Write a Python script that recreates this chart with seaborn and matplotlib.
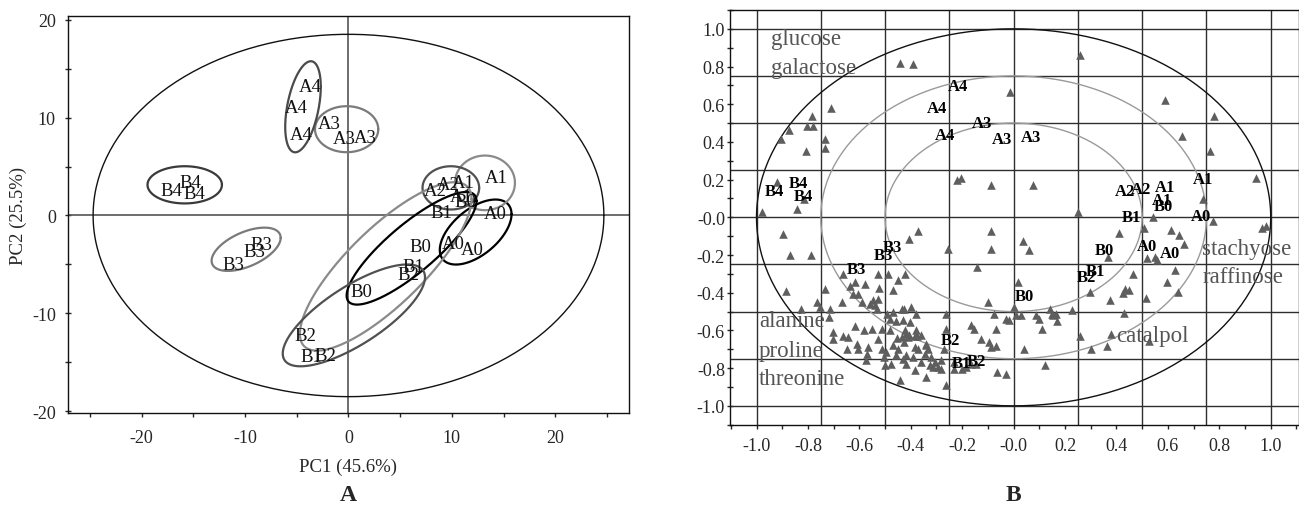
import numpy as np
import matplotlib.pyplot as plt
import seaborn as sns

# ---- panel A: PCA scores ----
score_labels = ["A4", "A4", "A4", "A3", "A3", "A3", "B4", "B4", "B4", "B3", "B3", "B3",
                "A1", "A2", "A2", "A1", "A1", "B0", "B1", "A0", "A0", "A0",
                "B0", "B1", "B2", "B0", "B2", "B1", "B2"]
score_x = [-3.7, -5.1, -4.6, -1.9, -0.4, 1.6, -17.1, -15.3, -14.9, -8.4, -9.1, -11.1,
           14.3, 8.4, 9.66, 11.1, 10.9, 11.3, 9.0, 14.2, 10.14, 12.0,
           6.98, 6.27, 5.78, 1.27, -4.2, -3.56, -2.27]
score_y = [13.2, 11.0, 8.3, 9.4, 7.9, 8.0, 2.6, 3.4, 2.2, -3.0, -3.7, -5.0,
           3.85, 2.6, 3.16, 3.33, 1.97, 1.46, 0.34, 0.17, -2.86, -3.5,
           -3.2, -5.17, -6.02, -7.72, -12.3, -14.36, -14.3]

# group ellipses: centre, half extents, correlation
ell_groups = ["A0", "A1", "A2", "A3", "A4", "B0", "B1", "B2", "B3", "B4"]
ell_cx = [12.3, 13.2, 9.9, -0.18, -4.4, 6.1, 3.6, 0.52, -9.9, -15.84]
ell_cy = [-1.69, 3.33, 2.82, 8.81, 11.1, -3.35, -5.2, -10.2, -3.45, 3.13]
ell_sx = [3.47, 2.9, 2.74, 3.06, 1.72, 6.28, 8.3, 6.88, 3.34, 3.6]
ell_sy = [3.32, 2.79, 2.21, 2.35, 4.65, 5.75, 8.6, 5.2, 2.21, 1.9]
ell_rho = [0.55, 0.0, 0.0, 0.0, 0.44, 0.84, 0.8, 0.75, 0.53, 0.0]
ell_colors = {"A0": "#000000", "A1": "#8a8a8a", "A2": "#505050", "A3": "#7a7a7a",
              "A4": "#4a4a4a", "B0": "#000000", "B1": "#8a8a8a", "B2": "#505050",
              "B3": "#7a7a7a", "B4": "#3a3a3a"}

# ---- panel B: loadings ----
load_x = [0.258, -0.442, -0.392, -0.016, 0.588, -0.71, -0.783, -0.872, -0.802, -0.779,
          -0.905, -0.733, -0.733, -0.807, 0.778, 0.656, 0.762, 0.942, -0.221, -0.204,
          -0.088, 0.075, -0.921, -0.815, -0.844, -0.977, 0.736, 0.252, 0.543, 0.775,
          0.965, 0.982, 0.507, 0.411, 0.613, 0.642, 0.661, -0.898, -0.87, -0.79,
          -0.373, -0.405, -0.254, -0.088, -0.088, 0.038, 0.06, -0.142, 0.366, 0.52,
          0.549, 0.556, 0.626, 0.465, 0.597, 0.639, 0.433, 0.45, 0.427, 0.298,
          0.373, 0.513, 0.429, 0.227, 0.143, 0.154, 0.167, 0.018, 0.365, 0.38,
          0.528, 0.302, 0.257, 0.124,
          -0.884, -0.732, -0.826, -0.765, -0.754, -0.716, -0.72, -0.668, -0.662, -0.638,
          -0.616, -0.604, -0.623, -0.578, -0.588, -0.559, -0.546, -0.539, -0.533, -0.529,
          -0.524, -0.526, -0.488, -0.471, -0.449, -0.423, -0.436, -0.468, -0.494, -0.481,
          -0.426, -0.398, -0.378, -0.404, -0.616, -0.58, -0.552, -0.511, -0.481, -0.458,
          -0.432, -0.421, -0.407, -0.385, -0.374, -0.41, -0.662, -0.645, -0.704, -0.704,
          -0.649, -0.61, -0.604, -0.565, -0.529, -0.513, -0.497, -0.503, -0.5, -0.475,
          -0.468, -0.449, -0.458, -0.426, -0.417, -0.43, -0.417, -0.391, -0.385, -0.385,
          -0.372, -0.361, -0.346, -0.34, -0.333, -0.32, -0.327, -0.307, -0.294, -0.284,
          -0.269, -0.262, -0.262, -0.262, -0.23, -0.23, -0.202, -0.185, -0.166, -0.146,
          -0.166, -0.153, -0.127, -0.097, -0.088, -0.069, -0.069, -0.075, -0.03, -0.018,
          0.008, 0.028, 0.086, 0.098, 0.111, 0.15, 0.163, 0.002, -0.101, -0.063,
          -0.03, 0.04, -0.574, -0.443, -0.34, -0.314, -0.284, -0.381, -0.359, -0.34,
          -0.417, -0.436, -0.455, -0.571]
load_y = [0.859, 0.818, 0.811, 0.665, 0.625, 0.581, 0.535, 0.465, 0.482, 0.484,
          0.417, 0.417, 0.368, 0.35, 0.537, 0.431, 0.35, 0.208, 0.196, 0.209,
          0.17, 0.17, 0.187, 0.095, 0.042, 0.029, 0.095, 0.029, 0.002, -0.021,
          -0.057, -0.045, -0.056, -0.083, -0.069, -0.095, -0.143, -0.09, -0.198, -0.2,
          -0.074, -0.113, -0.166, -0.074, -0.169, -0.125, -0.171, -0.263, -0.212, -0.215,
          -0.21, -0.228, -0.281, -0.302, -0.343, -0.396, -0.378, -0.383, -0.399, -0.396,
          -0.44, -0.427, -0.51, -0.493, -0.484, -0.519, -0.551, -0.345, -0.682, -0.617,
          -0.655, -0.696, -0.629, -0.784,
          -0.392, -0.378, -0.484, -0.449, -0.475, -0.484, -0.528, -0.449, -0.302, -0.366,
          -0.343, -0.405, -0.405, -0.352, -0.449, -0.458, -0.44, -0.466, -0.484, -0.302,
          -0.375, -0.431, -0.299, -0.383, -0.334, -0.299, -0.484, -0.502, -0.511, -0.537,
          -0.484, -0.475, -0.511, -0.555, -0.578, -0.599, -0.59, -0.59, -0.595, -0.551,
          -0.546, -0.599, -0.622, -0.629, -0.629, -0.634, -0.629, -0.634, -0.608, -0.643,
          -0.696, -0.67, -0.696, -0.687, -0.643, -0.696, -0.714, -0.74, -0.784, -0.776,
          -0.678, -0.696, -0.731, -0.661, -0.731, -0.749, -0.776, -0.74, -0.687, -0.811,
          -0.696, -0.767, -0.723, -0.678, -0.696, -0.74, -0.784, -0.767, -0.793, -0.758,
          -0.696, -0.59, -0.511, -0.891, -0.802, -0.767, -0.802, -0.793, -0.776, -0.776,
          -0.572, -0.59, -0.643, -0.661, -0.687, -0.682, -0.59, -0.511, -0.537, -0.546,
          -0.519, -0.519, -0.519, -0.537, -0.59, -0.511, -0.511, -0.475, -0.449, -0.82,
          -0.829, -0.696, -0.758, -0.864, -0.846, -0.793, -0.802, -0.599, -0.625, -0.67,
          -0.617, -0.634, -0.64, -0.723]

obs_labels = ["A4", "A4", "A4", "A3", "A3", "A3", "B4", "B4", "B4", "A2", "A2", "A1",
              "A1", "B0", "A1", "B1", "A0", "A0", "A0", "B0", "B1", "B2", "B0",
              "B3", "B3", "B3", "B2", "B1", "B2"]
obs_x = [-0.216, -0.298, -0.267, -0.121, -0.046, 0.067, -0.932, -0.838, -0.816, 0.434,
         0.494, 0.589, 0.577, 0.582, 0.737, 0.46, 0.727, 0.518, 0.61, 0.352, 0.317,
         0.285, 0.041, -0.473, -0.506, -0.612, -0.245, -0.203, -0.146]
obs_y = [0.695, 0.58, 0.435, 0.498, 0.415, 0.424, 0.14, 0.183, 0.114, 0.138,
         0.152, 0.161, 0.092, 0.06, 0.205, 0.004, 0.005, -0.15, -0.187, -0.173, -0.286,
         -0.318, -0.415, -0.157, -0.201, -0.272, -0.652, -0.773, -0.76]

var_names = ["glucose", "galactose", "alanine", "proline", "threonine",
             "stachyose", "raffinose", "catalpol"]
var_x = [-0.944, -0.944, -0.991, -0.991, -0.991, 0.734, 0.734, 0.40]
var_y = [0.947, 0.793, -0.549, -0.705, -0.855, -0.166, -0.316, -0.629]

grid_levels = [-1.0, -0.75, -0.5, -0.25, 0.0, 0.25, 0.5, 0.75, 1.0]
circle_radii = [1.0, 0.75, 0.5]

sns.set_theme(style="white")
plt.rcParams["font.family"] = ["Liberation Serif", "DejaVu Serif"]
plt.rcParams["axes.unicode_minus"] = False

fig = plt.figure(figsize=(12.99, 5.06), dpi=100)
axA = fig.add_axes([0.0521, 0.1812, 0.4318, 0.7858])
axB = fig.add_axes([0.5618, 0.1587, 0.4382, 0.8196])

t = np.linspace(0, 2 * np.pi, 300)

# ---------- A ----------
axA.axhline(0, color="#555555", lw=1.2, zorder=1)
axA.axvline(0, color="#555555", lw=1.2, zorder=1)
axA.plot(24.7 * np.cos(t), 18.5 * np.sin(t), color="#111111", lw=1.0)
for g, cx, cy, sx, sy, r in zip(ell_groups, ell_cx, ell_cy, ell_sx, ell_sy, ell_rho):
    ex = cx + sx * np.cos(t)
    ey = cy + sy * (r * np.cos(t) + np.sqrt(1 - r ** 2) * np.sin(t))
    axA.plot(ex, ey, color=ell_colors[g], lw=1.6, zorder=2)
for lab, x, y in zip(score_labels, score_x, score_y):
    axA.text(x, y, lab, ha="center", va="center", fontsize=13.5, color="#111111", zorder=3)

axA.set_xlim(-27.16, 27.09)
axA.set_ylim(-20.2, 20.4)
axA.set_xticks([-20, -10, 0, 10, 20])
axA.set_xticks(np.arange(-25, 26, 5), minor=True)
axA.set_yticks([-20, -10, 0, 10, 20])
axA.set_yticks(np.arange(-20, 21, 5), minor=True)
axA.set_xticklabels(["-20", "-10", "0", "10", "20"])
axA.set_yticklabels(["-20", "-10", "0", "10", "20"])
axA.tick_params(axis="x", which="both", direction="out", length=3, width=1,
                labelsize=13, pad=8, bottom=True)
axA.tick_params(axis="y", which="both", direction="inout", length=5, width=1,
                labelsize=13, pad=6, left=True)
axA.set_xlabel("PC1 (45.6%)", fontsize=13.5)
axA.set_ylabel("PC2 (25.5%)", fontsize=13.5)
axA.xaxis.set_label_coords(0.5, -0.112)
axA.yaxis.set_label_coords(-0.072, 0.5)
for s in axA.spines.values():
    s.set_color("#111111")
    s.set_linewidth(1.0)

# ---------- B ----------
for g in grid_levels:
    axB.axhline(g, color="#2e2e2e", lw=1.0, zorder=1)
    axB.axvline(g, color="#2e2e2e", lw=1.0, zorder=1)
for r in circle_radii:
    col = "#111111" if r == 1.0 else "#9a9a9a"
    axB.plot(r * np.cos(t), r * np.sin(t), color=col, lw=1.0, zorder=2)
sns.scatterplot(x=load_x, y=load_y, marker="^", color="#5e5e5e", s=38,
                linewidth=0, ax=axB, zorder=3)
for lab, x, y in zip(obs_labels, obs_x, obs_y):
    axB.text(x, y, lab, ha="center", va="center", fontsize=12, fontweight="bold",
             color="#000000", zorder=4)
for name, x, y in zip(var_names, var_x, var_y):
    axB.text(x, y, name, ha="left", va="center", fontsize=16.5, color="#555555", zorder=4)

axB.set_xlim(-1.104, 1.11)
axB.set_ylim(-1.098, 1.10)
ticks = np.round(np.arange(-1.0, 1.01, 0.2), 1)
tick_text = ["-1.0", "-0.8", "-0.6", "-0.4", "-0.2", "-0.0", "0.2", "0.4", "0.6", "0.8", "1.0"]
axB.set_xticks(ticks)
axB.set_xticklabels(tick_text)
axB.set_yticks(ticks)
axB.set_yticklabels(tick_text)
axB.set_xticks(np.round(np.arange(-1.1, 1.11, 0.1), 1), minor=True)
axB.set_yticks(np.round(np.arange(-1.1, 1.11, 0.1), 1), minor=True)
axB.tick_params(axis="x", which="both", direction="out", length=3, width=1,
                labelsize=13, pad=6, bottom=True)
axB.tick_params(axis="y", which="both", direction="inout", length=5, width=1,
                labelsize=13, pad=1, left=True)
for s in axB.spines.values():
    s.set_color("#111111")
    s.set_linewidth(1.0)

fig.text(348 / 1299, 1 - 496 / 506, "A", ha="center", va="center",
         fontsize=17, fontweight="bold")
fig.text(1013 / 1299, 1 - 496 / 506, "B", ha="center", va="center",
         fontsize=17, fontweight="bold")

fig.savefig("out.png", dpi=100)
